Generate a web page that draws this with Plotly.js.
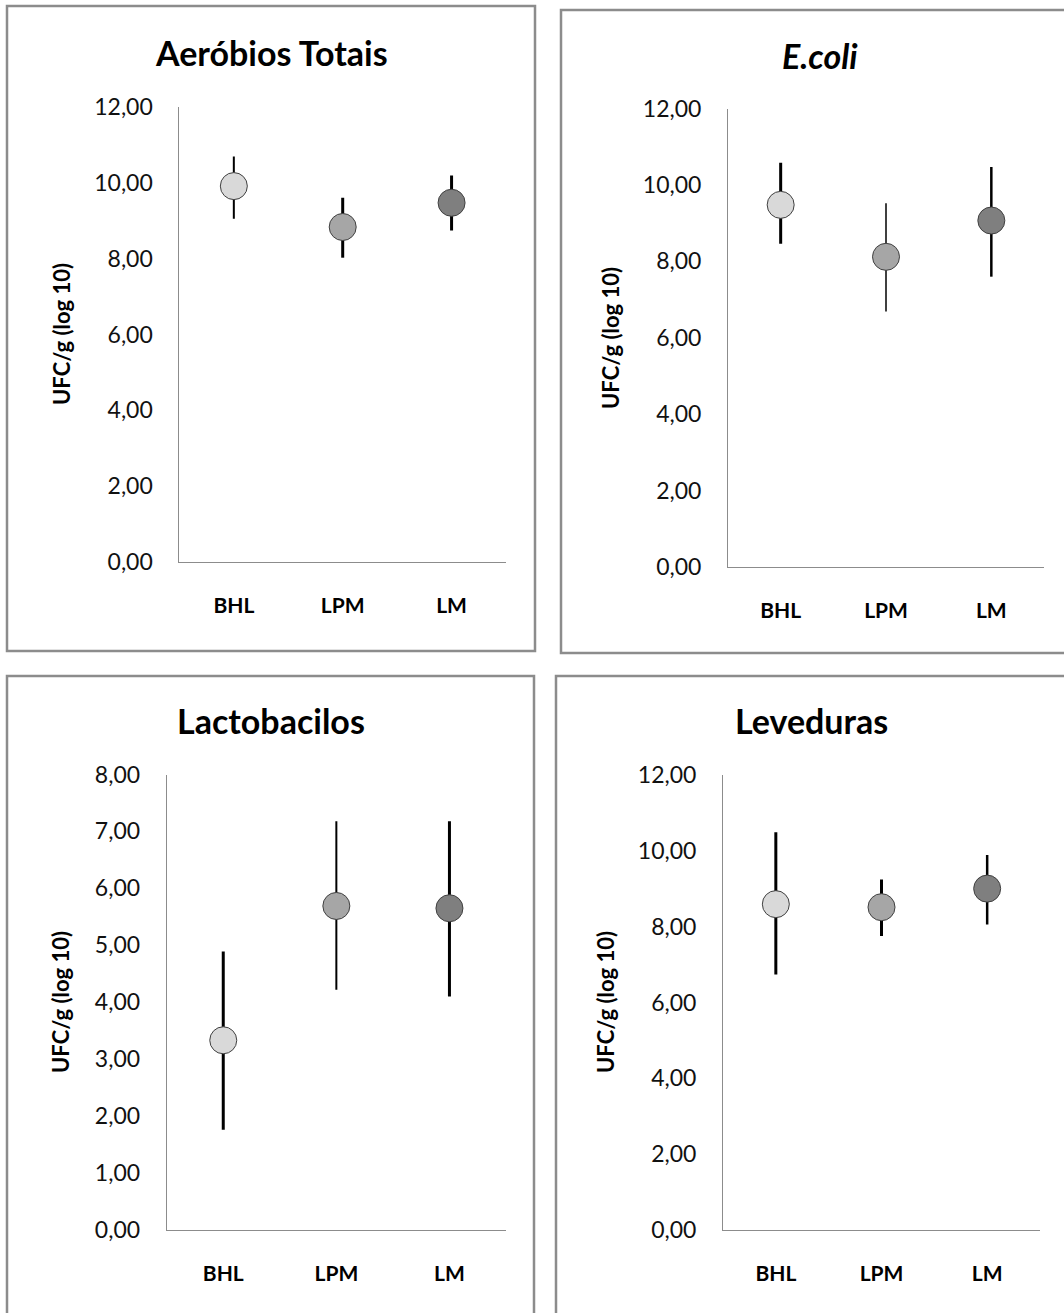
<!DOCTYPE html>
<html>
<head>
<meta charset="utf-8">
<script src="https://cdn.plot.ly/plotly-3.0.1.min.js"></script>
<style>html,body{margin:0;padding:0;background:#fff;}#chart{width:1064px;height:1313px;}</style>
</head>
<body>
<div id="chart"></div>
<script>
// ---- data ----
const categories = ["BHL", "LPM", "LM"];
const seriesColors = ["#d9d9d9", "#a6a6a6", "#7f7f7f"];

const panelTitles = ["Aeróbios Totais", "<i>E.coli</i>", "Lactobacilos", "Leveduras"];
const yTitle = "UFC/g (log 10)";

const aerobiosMean  = [9.92, 8.84, 9.48];
const aerobiosUpper = [10.70, 9.61, 10.20];
const aerobiosLower = [9.06, 8.03, 8.75];

const ecoliMean  = [9.48, 8.12, 9.07];
const ecoliUpper = [10.58, 9.52, 10.47];
const ecoliLower = [8.46, 6.69, 7.60];

const lactoMean  = [3.33, 5.69, 5.65];
const lactoUpper = [4.89, 7.18, 7.18];
const lactoLower = [1.76, 4.22, 4.10];

const levedMean  = [8.60, 8.52, 9.01];
const levedUpper = [10.50, 9.25, 9.90];
const levedLower = [6.74, 7.76, 8.06];

const yMax = [12, 12, 8, 12];
const yTickStep = [2, 2, 1, 2];

// ---- layout helpers (pixel geometry) ----
const W = 1064, H = 1313;
const px = v => v / W;
const py = v => 1 - v / H;

const panels = [
  {mean: aerobiosMean, up: aerobiosUpper, lo: aerobiosLower,
   ax: [179.4, 506], ay: [107.3, 561.9], box: [7, 6, 535, 651],
   title: [271, 52], ytitle: [62, 334], barW: [2, 3, 3]},
  {mean: ecoliMean, up: ecoliUpper, lo: ecoliLower,
   ax: [728, 1044], ay: [108.6, 567], box: [561, 10, 1070, 653],
   title: [820, 55], ytitle: [610, 338], barW: [3, 1.5, 2.5]},
  {mean: lactoMean, up: lactoUpper, lo: lactoLower,
   ax: [166.7, 506], ay: [774.5, 1229.8], box: [7, 676, 534, 1320],
   title: [271, 721], ytitle: [60, 1002], barW: [3, 2, 3]},
  {mean: levedMean, up: levedUpper, lo: levedLower,
   ax: [723, 1040], ay: [775.4, 1229.8], box: [556, 676, 1070, 1320],
   title: [811, 720], ytitle: [605, 1002], barW: [3, 3, 2.5]}
];

const FONT = "Lato, 'Open Sans', sans-serif";
const traces = [];
const layout = {
  width: W, height: H,
  margin: {l: 0, r: 0, t: 0, b: 0},
  paper_bgcolor: "#ffffff", plot_bgcolor: "#ffffff",
  showlegend: false,
  separators: ",.",
  font: {family: FONT, color: "#000"},
  shapes: [], annotations: []
};

panels.forEach((p, i) => {
  const n = i + 1;
  const xa = "x" + (n === 1 ? "" : n), ya = "y" + (n === 1 ? "" : n);
  categories.forEach((c, j) => {
    traces.push({
      type: "scatter", mode: "markers",
      x: [c], y: [p.mean[j]],
      xaxis: xa, yaxis: ya,
      marker: {size: 27, color: seriesColors[j], line: {color: "#404040", width: 1}},
      error_y: {
        type: "data", symmetric: false,
        array: [p.up[j] - p.mean[j]],
        arrayminus: [p.mean[j] - p.lo[j]],
        color: "#000", thickness: p.barW[j], width: 0
      },
      hoverinfo: "skip"
    });
  });
  layout["xaxis" + (n === 1 ? "" : n)] = {
    domain: [px(p.ax[0]), px(p.ax[1])],
    anchor: ya, type: "category",
    categoryorder: "array", categoryarray: categories,
    range: [-0.5, 2.5],
    showline: true, linecolor: "#8c8c8c", linewidth: 1,
    showgrid: false, zeroline: false,
    ticks: "outside", ticklen: 25, tickcolor: "rgba(0,0,0,0)",
    tickfont: {family: FONT, size: 21, color: "#000", weight: "bold"},
    fixedrange: true
  };
  layout["yaxis" + (n === 1 ? "" : n)] = {
    domain: [py(p.ay[1]), py(p.ay[0])],
    anchor: xa,
    range: [0, yMax[i]],
    tick0: 0, dtick: yTickStep[i], tickformat: ".2f",
    showline: true, linecolor: "#8c8c8c", linewidth: 1,
    showgrid: false, zeroline: false,
    ticks: "outside", ticklen: 21, tickcolor: "rgba(0,0,0,0)",
    tickfont: {family: FONT, size: 23, color: "#111"},
    fixedrange: true
  };
  layout.shapes.push({
    type: "rect", xref: "paper", yref: "paper",
    x0: px(p.box[0]), x1: px(p.box[2]), y0: py(p.box[3]), y1: py(p.box[1]),
    line: {color: "#8c8c8c", width: 2.5}, fillcolor: "rgba(0,0,0,0)", layer: "below"
  });
  layout.annotations.push({
    xref: "paper", yref: "paper", x: px(p.title[0]), y: py(p.title[1]),
    xanchor: "center", yanchor: "middle", showarrow: false,
    text: "<b>" + panelTitles[i] + "</b>",
    font: {family: FONT, size: 34, color: "#000"}
  });
  layout.annotations.push({
    xref: "paper", yref: "paper", x: px(p.ytitle[0]), y: py(p.ytitle[1]),
    xanchor: "center", yanchor: "middle", showarrow: false, textangle: -90,
    text: "<b>" + yTitle + "</b>",
    font: {family: FONT, size: 22, color: "#000"}
  });
});

Plotly.newPlot("chart", traces, layout, {staticPlot: true, displayModeBar: false});
</script>
</body>
</html>
